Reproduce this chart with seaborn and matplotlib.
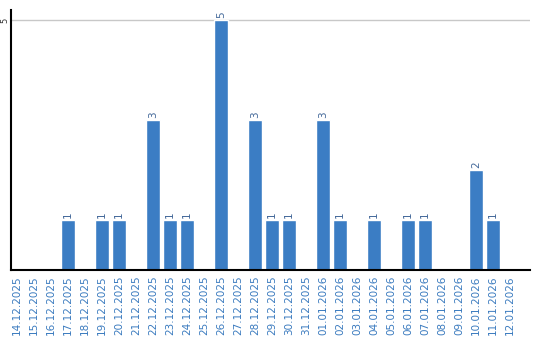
import matplotlib
matplotlib.use("Agg")
import matplotlib.pyplot as plt
import seaborn as sns
import pandas as pd

dates = ["14.12.2025", "15.12.2025", "16.12.2025", "17.12.2025", "18.12.2025",
         "19.12.2025", "20.12.2025", "21.12.2025", "22.12.2025", "23.12.2025",
         "24.12.2025", "25.12.2025", "26.12.2025", "27.12.2025", "28.12.2025",
         "29.12.2025", "30.12.2025", "31.12.2025", "01.01.2026", "02.01.2026",
         "03.01.2026", "04.01.2026", "05.01.2026", "06.01.2026", "07.01.2026",
         "08.01.2026", "09.01.2026", "10.01.2026", "11.01.2026", "12.01.2026"]
counts = [0, 0, 0, 1, 0, 1, 1, 0, 3, 1, 1, 0, 5, 0, 3, 1, 1, 0, 3, 1,
          0, 1, 0, 1, 1, 0, 0, 2, 1, 0]
yticks = [5]

sns.set_theme(style="white")
plt.rcParams['font.family'] = ['DejaVu Sans']

df = pd.DataFrame({"date": dates, "count": counts})

fig = plt.figure(figsize=(5.4, 3.4), dpi=100)
ax = fig.add_axes([11/540, 1 - 270/340, 519/540, 260/340])

bar_color = "#3b7dc4"
sns.barplot(data=df, x="date", y="count", color=bar_color, width=0.82,
            saturation=1, ax=ax, order=dates)

ax.set_ylim(0, 5.2)
ax.set_xlim(-0.35, 30.18)
ax.set_yticks(yticks)
ax.set_yticklabels([str(v) for v in yticks], rotation=90, va="center",
                   fontsize=6, color="#333333")
ax.yaxis.grid(True, color="#c8c8c8", linewidth=1)
ax.set_axisbelow(True)
ax.tick_params(axis="y", length=0, pad=1.5)
ax.tick_params(axis="x", length=0, pad=4)
ax.set_xticks(range(len(dates)))
ax.set_xticklabels(dates, rotation=90, fontsize=7.5, color="#3b7bbf")
ax.set_xlabel("")
ax.set_ylabel("")

for s in ["top", "right"]:
    ax.spines[s].set_visible(False)
for s in ["left", "bottom"]:
    ax.spines[s].set_color("black")
    ax.spines[s].set_linewidth(1.5)

for i, v in enumerate(counts):
    if v > 0:
        ax.text(i, v + 0.04, str(v), rotation=90, ha="center", va="bottom",
                fontsize=7.5, color="#44699a")

fig.savefig("out.png", dpi=100)
